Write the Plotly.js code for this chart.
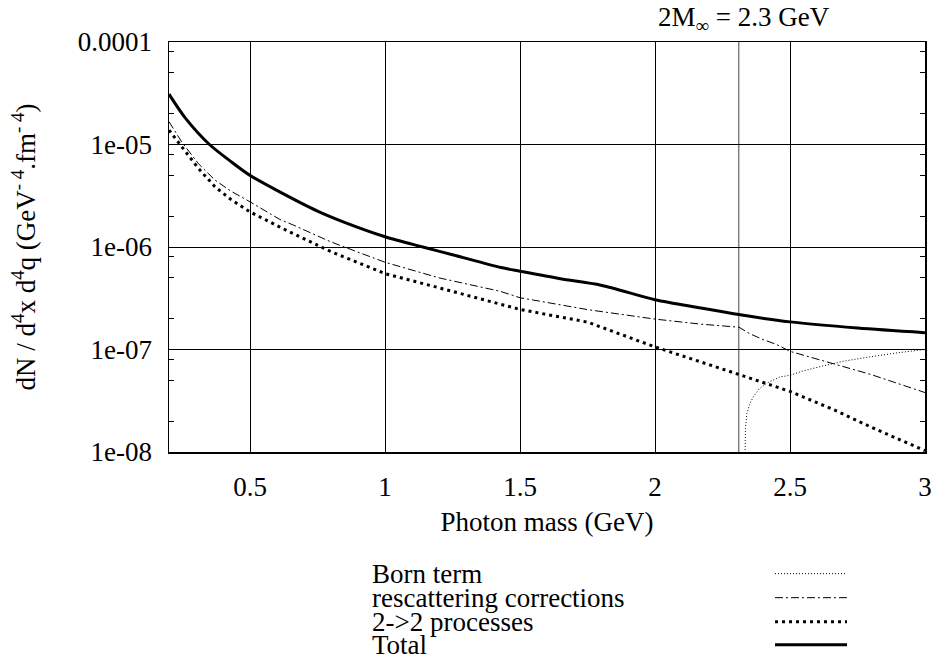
<!DOCTYPE html>
<html>
<head>
<meta charset="utf-8">
<script src="https://cdn.plot.ly/plotly-3.0.1.min.js"></script>
<style>html,body{margin:0;padding:0;background:#fff;}#chart{width:932px;height:667px;}</style>
</head>
<body>
<div id="chart"></div>
<script>
// ---- data ----
const seriesNames = ["Born term", "rescattering corrections", "2->2 processes", "Total"];

const bornX = [2.333, 2.335, 2.34, 2.35, 2.364, 2.385, 2.414, 2.44, 2.463, 2.5, 2.55, 2.611, 2.7, 2.8, 2.9, 3.0];
const bornY = [8e-9, 1.7e-8, 2.37e-8, 2.9e-8, 3.45e-8, 4.1e-8, 4.7e-8, 5.1e-8, 5.4e-8, 5.6e-8, 6.2e-8, 6.8e-8, 7.7e-8, 8.5e-8, 9.3e-8, 1.0e-7];

const rescX = [0.2, 0.247, 0.309, 0.37, 0.43, 0.5, 0.61, 0.66, 0.8, 1.0, 1.2, 1.426, 1.5, 1.75, 2.0, 2.167, 2.311, 2.35, 2.4, 2.45, 2.5, 2.66, 2.8, 3.0];
const rescY = [1.67e-5, 1.06e-5, 6.5e-6, 4.5e-6, 3.5e-6, 2.76e-6, 1.86e-6, 1.64e-6, 1.12e-6, 7.1e-7, 5.0e-7, 3.7e-7, 3.2e-7, 2.45e-7, 1.98e-7, 1.77e-7, 1.65e-7, 1.43e-7, 1.25e-7, 1.12e-7, 9.6e-8, 7.3e-8, 5.7e-8, 3.8e-8];

const twoX = [0.2, 0.241, 0.309, 0.37, 0.43, 0.5, 0.62, 0.8, 1.0, 1.2, 1.426, 1.5, 1.75, 2.0, 2.311, 2.5, 2.66, 2.8, 3.0];
const twoY = [1.38e-5, 9.9e-6, 5.85e-6, 3.87e-6, 2.9e-6, 2.2e-6, 1.52e-6, 9.0e-7, 5.5e-7, 4.0e-7, 2.8e-7, 2.46e-7, 1.85e-7, 1.06e-7, 5.7e-8, 3.9e-8, 2.6e-8, 1.75e-8, 1.03e-8];

const totX = [0.2, 0.26, 0.35, 0.43, 0.5, 0.61, 0.75, 0.85, 1.0, 1.14, 1.25, 1.43, 1.5, 1.65, 1.8, 2.0, 2.17, 2.31, 2.5, 2.75, 3.0];
const totY = [3.1e-5, 1.82e-5, 1.0e-5, 6.8e-6, 5.0e-6, 3.45e-6, 2.24e-6, 1.74e-6, 1.26e-6, 1.0e-6, 8.4e-7, 6.3e-7, 5.8e-7, 4.9e-7, 4.24e-7, 3.06e-7, 2.54e-7, 2.19e-7, 1.86e-7, 1.62e-7, 1.46e-7];

const threshold = 2.31;                 // 2M_inf marker line
const xTickVals = [0.5, 1, 1.5, 2, 2.5, 3];
const xTickText = ["0.5", "1", "1.5", "2", "2.5", "3"];
const yTickVals = [1e-8, 1e-7, 1e-6, 1e-5, 1e-4];
const yTickText = ["1e-08", "1e-07", "1e-06", "1e-05", "0.0001"];
const minorMantissas = [2, 5, 8];

// ---- build ----
const minorVals = [];
for (let e = -8; e < -4; e++) minorMantissas.forEach(m => minorVals.push(m * Math.pow(10, e)));

const FONT = "Liberation Serif, Times New Roman, serif";
const FS = 27;

const traces = [
  {x: bornX, y: bornY, mode: "lines", name: seriesNames[0], line: {color: "#000", width: 1, dash: "1px,2px"}},
  {x: rescX, y: rescY, mode: "lines", name: seriesNames[1], line: {color: "#000", width: 1, dash: "8px,3px,2px,3px"}},
  {x: twoX, y: twoY, mode: "lines", name: seriesNames[2], line: {color: "#000", width: 3, dash: "3px,4px"}},
  {x: totX, y: totY, mode: "lines", name: seriesNames[3], line: {color: "#000", width: 3, shape: "spline", smoothing: 0.8}}
];

const legendStyles = [
  {width: 1, dash: "1px,2px"},
  {width: 1, dash: "8px,3px,2px,3px"},
  {width: 3, dash: "3px,4px"},
  {width: 3, dash: "solid"}
];
const rowY = [-0.2967, -0.3553, -0.4139, -0.4701];
const annotations = [];
const shapes = [
  {type: "line", xref: "x", yref: "paper", x0: threshold, x1: threshold, y0: 0, y1: 1,
   line: {color: "#808080", width: 1.5}, layer: "below"}
];
seriesNames.forEach((n, i) => {
  annotations.push({xref: "paper", yref: "paper", x: 0.2665, y: rowY[i], xanchor: "left", yanchor: "middle",
    text: n, showarrow: false, font: {family: FONT, size: FS, color: "#000"}});
  shapes.push({type: "line", xref: "paper", yref: "paper", x0: 0.8016, x1: 0.8968, y0: rowY[i], y1: rowY[i],
    line: Object.assign({color: "#000"}, legendStyles[i])});
});
annotations.push({xref: "paper", yref: "paper", x: 0.7606, y: 1.103, xanchor: "center", yanchor: "top",
  text: "2M<sub>∞</sub> = 2.3 GeV", showarrow: false, font: {family: FONT, size: FS, color: "#000"}});

const layout = {
  width: 932, height: 667,
  margin: {l: 169, r: 7, t: 42, b: 215, pad: 0},
  paper_bgcolor: "#fff", plot_bgcolor: "#fff",
  font: {family: FONT, size: FS, color: "#000"},
  showlegend: false,
  xaxis: {
    range: [0.2, 3], tickmode: "array", tickvals: xTickVals, ticktext: xTickText,
    showgrid: true, gridcolor: "#000", gridwidth: 1,
    showline: true, linecolor: "#000", linewidth: 1.5, mirror: "ticks",
    ticks: "inside", ticklen: 8, tickcolor: "#000", ticklabelstandoff: 10,
    zeroline: false,
    title: {text: "Photon mass (GeV)", font: {family: FONT, size: FS}, standoff: 11}
  },
  yaxis: {
    type: "log", range: [-8, -4], tickmode: "array", tickvals: yTickVals, ticktext: yTickText,
    showgrid: true, gridcolor: "#000", gridwidth: 1,
    showline: true, linecolor: "#000", linewidth: 1.5, mirror: "ticks",
    ticks: "inside", ticklen: 8, tickcolor: "#000", ticklabelstandoff: 10,
    zeroline: false,
    minor: {tickmode: "array", tickvals: minorVals, ticks: "inside", ticklen: 5, tickcolor: "#000", showgrid: false},
    title: {text: "dN / d<sup>4</sup>x d<sup>4</sup>q (GeV<sup>- 4</sup>.fm<sup>- 4</sup>)", font: {family: FONT, size: FS}, standoff: 34}
  },
  shapes: shapes,
  annotations: annotations
};

Plotly.newPlot("chart", traces, layout, {displayModeBar: false, staticPlot: true});
</script>
</body>
</html>
